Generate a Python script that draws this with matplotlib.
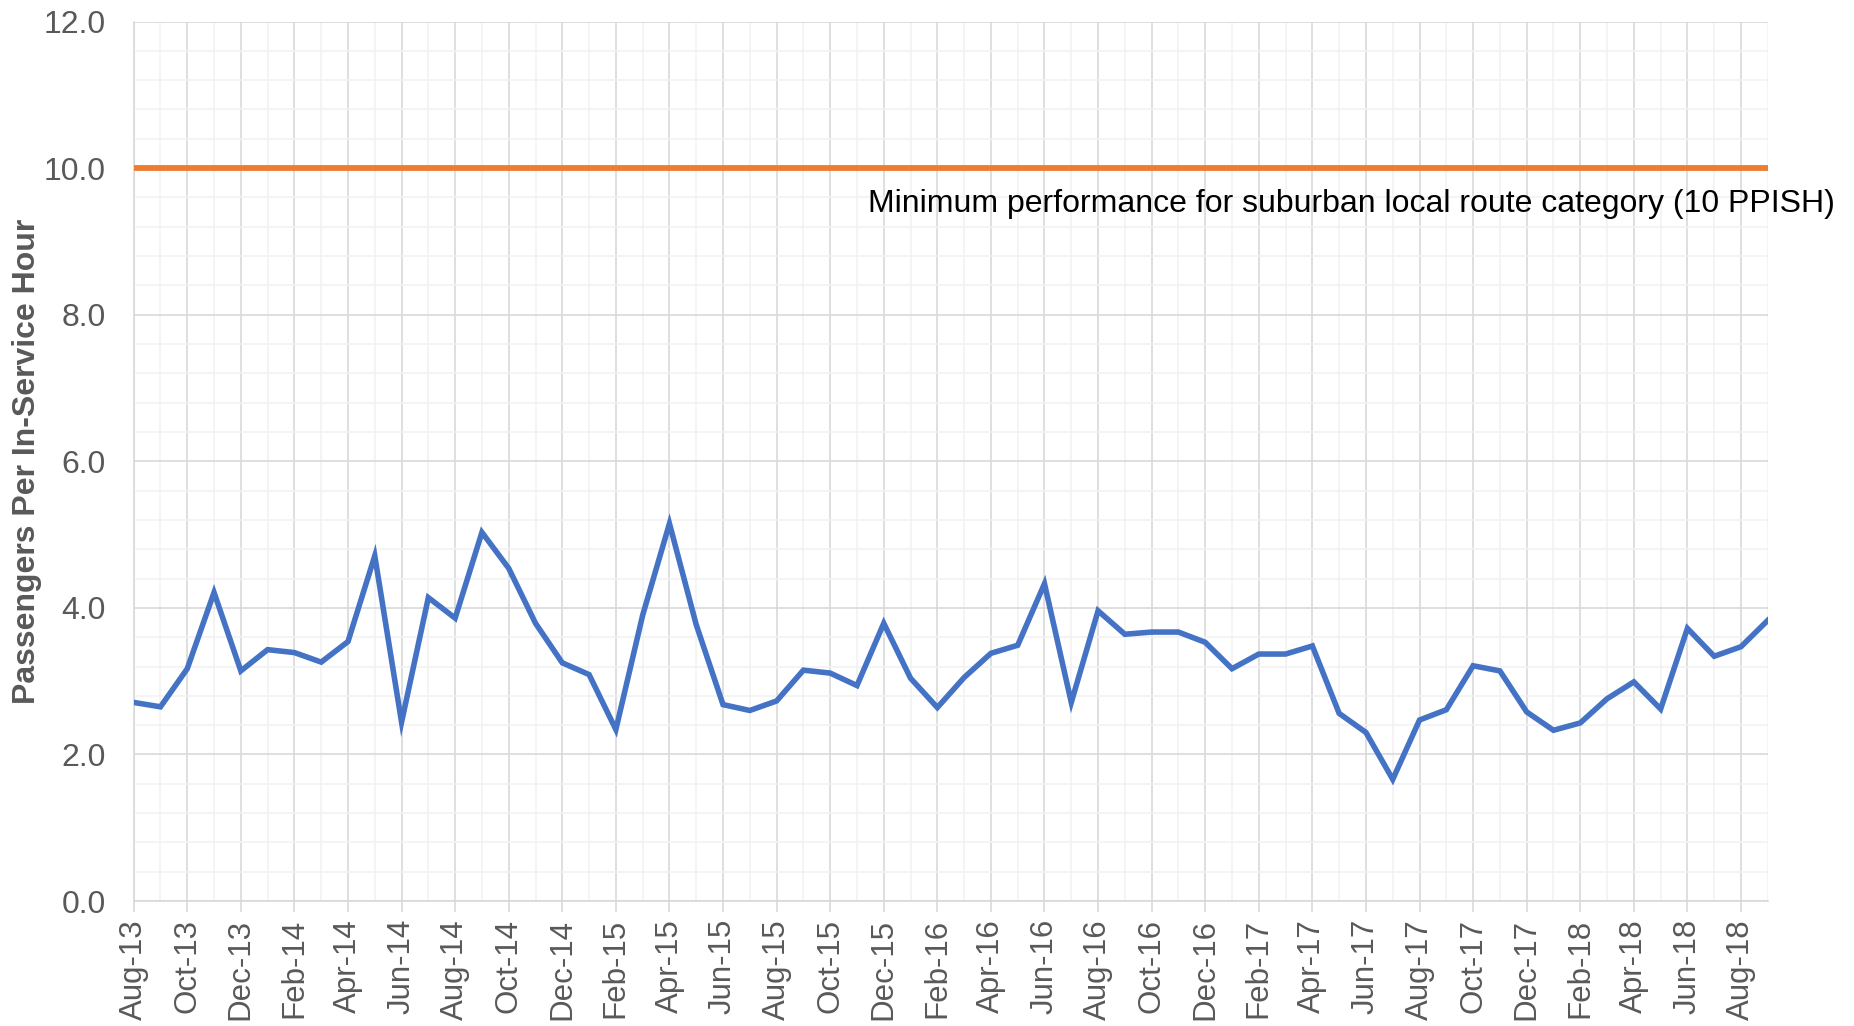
import matplotlib
matplotlib.use("Agg")
import matplotlib.pyplot as plt
from matplotlib.ticker import MultipleLocator
import pandas as pd

# monthly ridership, Aug-13 .. Sep-18
months = pd.date_range("2013-08-01", "2018-09-01", freq="MS").strftime("%b-%y").tolist()
ppish = [2.71, 2.65, 3.17, 4.21, 3.14, 3.43, 3.39, 3.26, 3.54, 4.71,
         2.44, 4.14, 3.86, 5.03, 4.54, 3.79, 3.25, 3.09, 2.34, 3.90,
         5.15, 3.77, 2.68, 2.60, 2.73, 3.15, 3.11, 2.94, 3.79, 3.04,
         2.64, 3.05, 3.38, 3.49, 4.33, 2.71, 3.96, 3.64, 3.67, 3.67,
         3.53, 3.17, 3.37, 3.37, 3.48, 2.56, 2.30, 1.66, 2.47, 2.61,
         3.21, 3.14, 2.58, 2.33, 2.43, 2.76, 2.99, 2.62, 3.72, 3.34,
         3.47, 3.83]
threshold = 10.0
threshold_label = "Minimum performance for suburban local route category (10 PPISH)"

plt.rcParams['font.family'] = ['Liberation Sans', 'DejaVu Sans']

fig = plt.figure(figsize=(18.54, 10.26), dpi=100)
ax = fig.add_axes([0.0721, 0.1218, 0.9535 - 0.0721, 0.979 - 0.1218])

x = list(range(len(months)))
ax.plot(x, [threshold] * len(x), color="#ED7D31", lw=4.2, solid_capstyle="butt", zorder=3)
ax.plot(x, ppish, color="#4472C4", lw=4.0, solid_joinstyle="miter", zorder=4)

ax.text(1.041, 9.51, threshold_label, transform=ax.get_yaxis_transform(),
        ha="right", va="center", fontsize=23, color="black", clip_on=False)

ax.set_xlim(0, len(x) - 1)
ax.set_ylim(0, 12)
ax.xaxis.set_major_locator(MultipleLocator(2))
ax.xaxis.set_minor_locator(MultipleLocator(1))
ax.yaxis.set_major_locator(MultipleLocator(2))
ax.yaxis.set_minor_locator(MultipleLocator(0.4))
ax.set_xticks(x[::2])
ax.set_xticklabels(months[::2], rotation=90, fontsize=22.5, color="#595959")
ax.set_yticks([0, 2, 4, 6, 8, 10, 12])
ax.set_yticklabels(["%.1f" % v for v in [0, 2, 4, 6, 8, 10, 12]], fontsize=23, color="#595959")

ax.grid(which="major", color="#D9D9D9", lw=1.2, zorder=0)
ax.grid(which="minor", color="#F2F2F2", lw=1.2, zorder=0)
ax.set_axisbelow(True)

for s in ["top", "right"]:
    ax.spines[s].set_visible(False)
for s in ["left", "bottom"]:
    ax.spines[s].set_color("#D9D9D9")
    ax.spines[s].set_linewidth(1.2)

ax.tick_params(axis="x", which="major", length=8, color="#D9D9D9", width=1.2, pad=5)
ax.tick_params(axis="x", which="minor", length=0)
ax.tick_params(axis="y", which="both", length=0, pad=20)

ax.set_ylabel("Passengers Per In-Service Hour", fontsize=23, fontweight="bold",
              color="#595959", labelpad=1.5)

fig.savefig("out.png", dpi=100)
